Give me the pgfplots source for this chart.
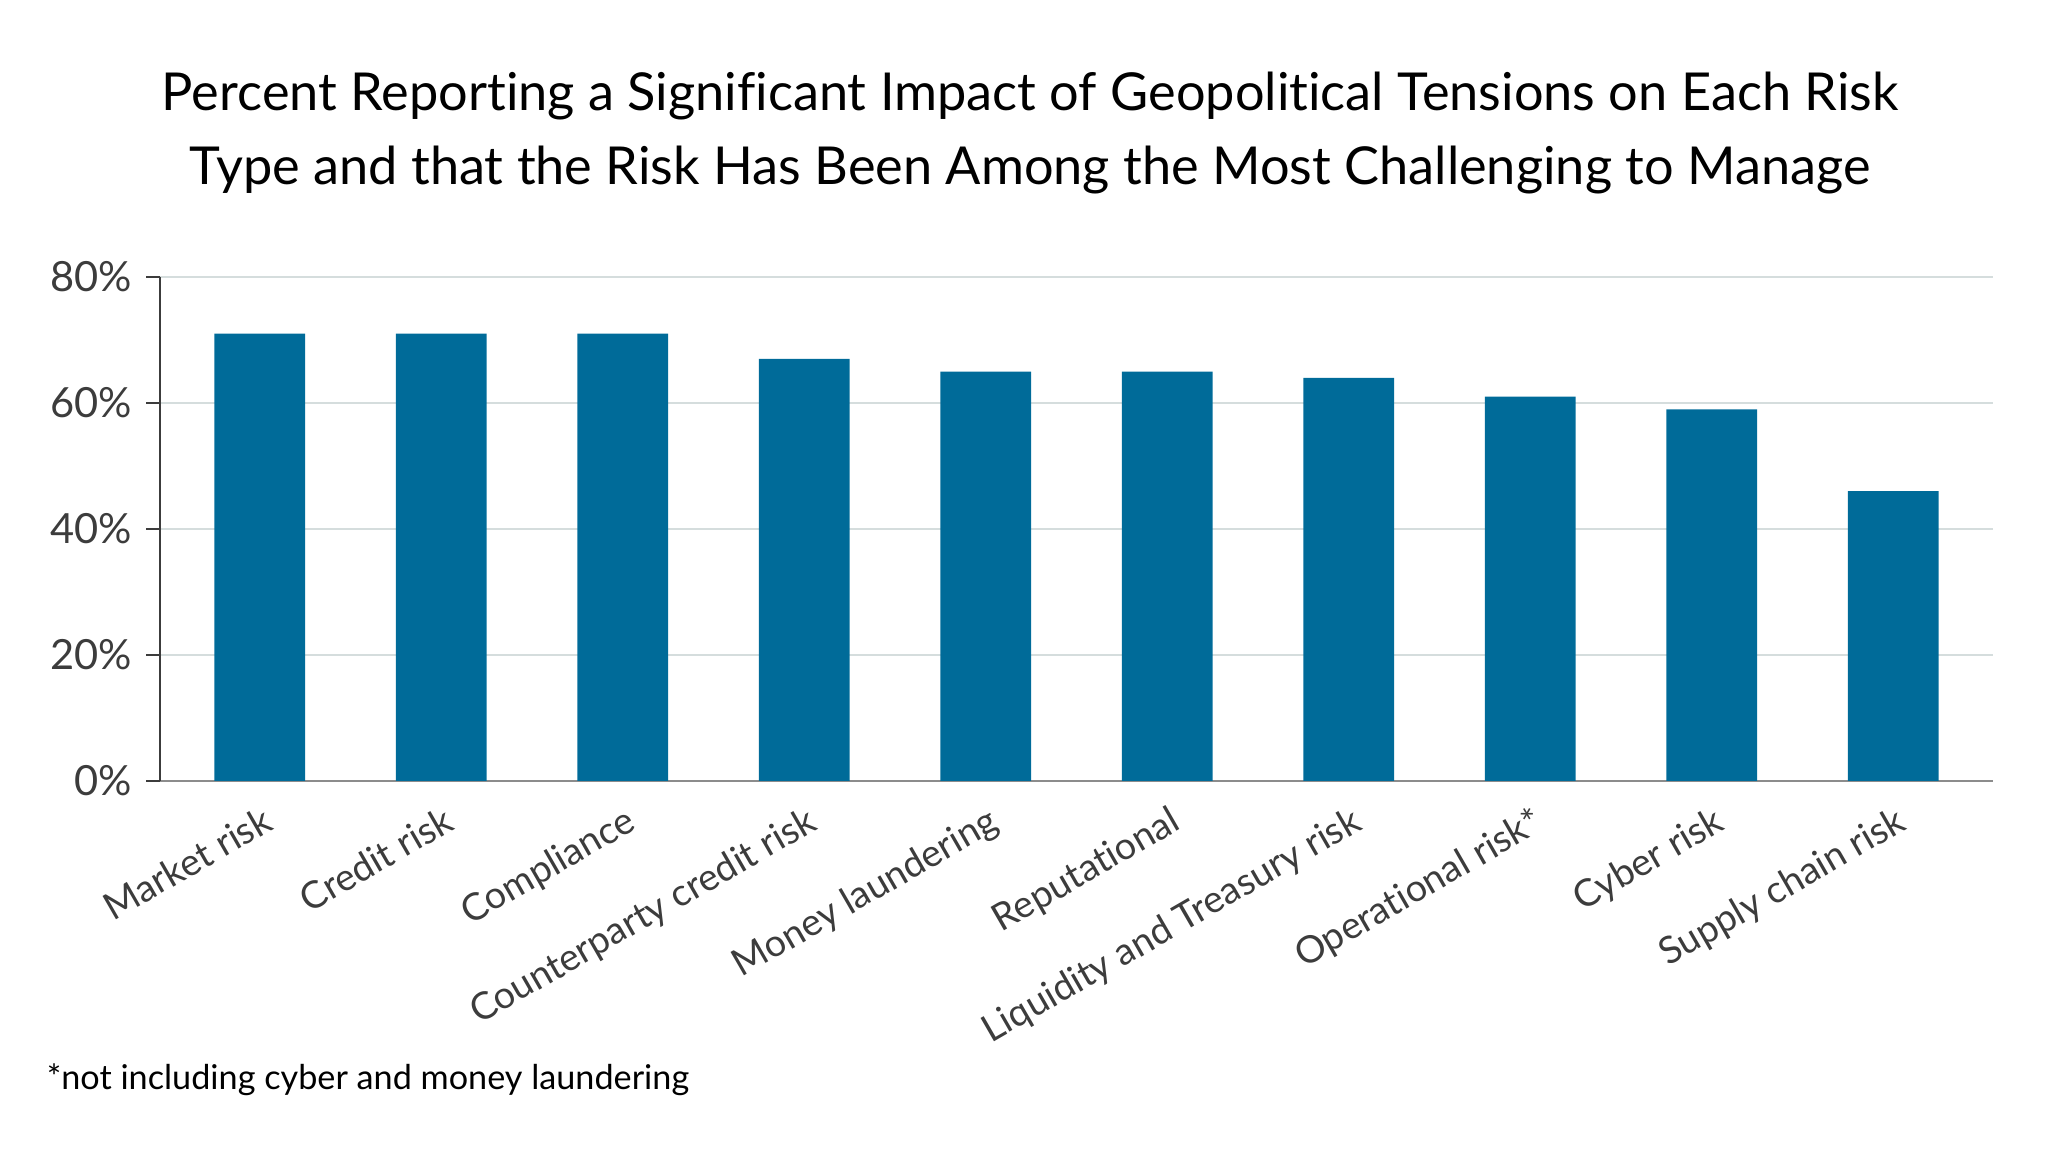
\documentclass[border=0pt]{standalone}
\usepackage{fontspec}
\setmainfont{Lato}[Ligatures=NoCommon]
\usepackage{pgfplots}
\pgfplotsset{compat=1.18}

\definecolor{barblue}{RGB}{0,107,153}
\definecolor{gridgray}{RGB}{213,221,221}
\definecolor{labelgray}{RGB}{60,60,60}

\begin{document}
\begin{tikzpicture}
\path[use as bounding box] (0,0) rectangle (512.5pt,291.5pt);

\node[anchor=base, font=\fontsize{13.07}{16}\selectfont] at (257.5pt,263.8pt)
  {Percent Reporting a Significant Impact of Geopolitical Tensions on Each Risk};
\node[anchor=base, font=\fontsize{13.07}{16}\selectfont] at (257.5pt,245.3pt)
  {Type and that the Risk Has Been Among the Most Challenging to Manage};

\begin{axis}[
    at={(40pt,96.25pt)}, anchor=south west,
    scale only axis,
    width=458.25pt, height=126pt,
    ybar, bar width=0.5,
    xmin=-0.55, xmax=9.55,
    ymin=0, ymax=80,
    ytick={0,20,40,60,80},
    yticklabel={\pgfmathprintnumber{\tick}\%},
    /pgf/number format/assume math mode=true,
    xtick=data,
    xticklabels={Market risk, Credit risk, Compliance, Counterparty credit risk,
      Money laundering, Reputational, Liquidity and Treasury risk,
      Operational risk*, Cyber risk, Supply chain risk},
    xticklabel style={rotate=30, anchor=north east, inner sep=0pt,
      xshift=-0.8pt, yshift=-2pt, font=\fontsize{9.4}{11}\selectfont, text=labelgray},
    yticklabel style={font=\fontsize{10.4}{12}\selectfont, text=labelgray},
    x tick style={draw=none},
    y tick style={draw=labelgray, line width=0.4pt},
    major tick length=3.5pt,
    tick align=outside,
    ymajorgrids, grid style={gridgray, line width=0.6pt},
    axis x line*=bottom, axis y line*=left,
    x axis line style={draw=gray!90, line width=0.6pt, -},
    y axis line style={draw=labelgray, line width=0.4pt, -},
    axis line style={-},
]
\addplot[fill=barblue, draw=none] coordinates {
    (0,71) (1,71) (2,71) (3,67) (4,65) (5,65) (6,64) (7,61) (8,59) (9,46)
};
\end{axis}

\node[anchor=base west, inner sep=0pt, font=\fontsize{8.55}{10}\selectfont] at (11.5pt,19pt)
  {*not including cyber and money laundering};
\end{tikzpicture}
\end{document}
